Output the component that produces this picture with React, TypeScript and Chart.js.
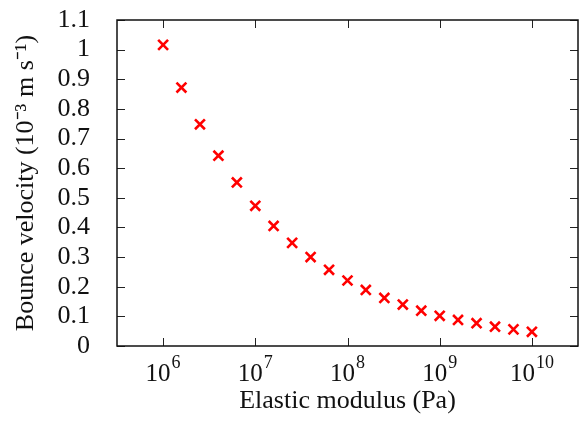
import React, { useEffect, useRef } from "react";
import { Chart, registerables } from "chart.js";

Chart.register(...registerables);

// Data
const modulusPa = [
  1e6, 1.58e6, 2.51e6, 3.98e6, 6.31e6,
  1e7, 1.58e7, 2.51e7, 3.98e7, 6.31e7,
  1e8, 1.58e8, 2.51e8, 3.98e8, 6.31e8,
  1e9, 1.58e9, 2.51e9, 3.98e9, 6.31e9,
  1e10,
];
const bounceVelocity = [
  1.016, 0.872, 0.748, 0.642, 0.552,
  0.473, 0.405, 0.348, 0.3, 0.257,
  0.221, 0.189, 0.162, 0.14, 0.119,
  0.102, 0.088, 0.077, 0.065, 0.056,
  0.048,
];
const xTickValues = [1e6, 1e7, 1e8, 1e9, 1e10];
const xTickBase = "10";
const xTickExponents = ["6", "7", "8", "9", "10"];
const xTickLabels = ["10⁶", "10⁷", "10⁸", "10⁹", "10¹⁰"];
const yTickValues = [0, 0.1, 0.2, 0.3, 0.4, 0.5, 0.6, 0.7, 0.8, 0.9, 1, 1.1];
const yTickLabels = ["0", "0.1", "0.2", "0.3", "0.4", "0.5", "0.6", "0.7", "0.8", "0.9", "1", "1.1"];
const xTitle = "Elastic modulus (Pa)";
const yTitle = "Bounce velocity (10⁻³ m s⁻¹)";

const FONT = "'Liberation Serif', 'Times New Roman', serif";
const TEXT = "#111";

const frameTicks = {
  id: "frameTicks",
  afterDraw(chart: any) {
    const { ctx, chartArea: a, scales } = chart;
    const len = 8;
    ctx.save();
    ctx.strokeStyle = "#222";
    ctx.lineWidth = 1;
    ctx.beginPath();
    for (const t of scales.x.ticks) {
      const px = Math.round(scales.x.getPixelForValue(t.value)) + 0.5;
      ctx.moveTo(px, a.bottom);
      ctx.lineTo(px, a.bottom - len);
      ctx.moveTo(px, a.top);
      ctx.lineTo(px, a.top + len);
    }
    for (const t of scales.y.ticks) {
      const py = Math.round(scales.y.getPixelForValue(t.value)) + 0.5;
      ctx.moveTo(a.left, py);
      ctx.lineTo(a.left + len, py);
      ctx.moveTo(a.right, py);
      ctx.lineTo(a.right - len, py);
    }
    ctx.stroke();
    ctx.lineWidth = 1.5;
    ctx.strokeStyle = "#111";
    ctx.strokeRect(a.left, a.top, a.right - a.left, a.bottom - a.top);

    // power-of-ten tick labels with proper superscripts
    ctx.fillStyle = TEXT;
    ctx.textBaseline = "alphabetic";
    ctx.textAlign = "left";
    const baseFont = `25px ${FONT}`;
    const expFont = `18px ${FONT}`;
    xTickValues.forEach((v, i) => {
      const px = scales.x.getPixelForValue(v);
      ctx.font = baseFont;
      const w1 = ctx.measureText(xTickBase).width;
      ctx.font = expFont;
      const w2 = ctx.measureText(xTickExponents[i]).width;
      const x0 = px - (w1 + w2 + 1) / 2;
      ctx.font = baseFont;
      ctx.fillText(xTickBase, x0, a.bottom + 35);
      ctx.font = expFont;
      ctx.fillText(xTickExponents[i], x0 + w1 + 1, a.bottom + 22);
    });
    ctx.restore();
  },
};

export default function App() {
  const ref = useRef<HTMLCanvasElement | null>(null);
  useEffect(() => {
    document.body.style.margin = "0";
    const canvas = ref.current;
    if (!canvas) return;
    const chart = new Chart(canvas, {
      type: "scatter",
      data: {
        datasets: [
          {
            data: modulusPa.map((x, i) => ({ x, y: bounceVelocity[i] })),
            pointStyle: "crossRot",
            pointRadius: 7,
            pointBorderWidth: 2.6,
            borderColor: "#ff0000",
            backgroundColor: "#ff0000",
            showLine: false,
          },
        ],
      },
      options: {
        animation: false,
        responsive: false,
        devicePixelRatio: 1,
        layout: { autoPadding: false, padding: { left: 0, right: 6, top: 20, bottom: 0 } },
        plugins: { legend: { display: false }, tooltip: { enabled: false } },
        scales: {
          x: {
            type: "logarithmic",
            min: Math.pow(10, 5.5),
            max: Math.pow(10, 10.5),
            afterBuildTicks: (s: any) => {
              s.ticks = xTickValues.map((v) => ({ value: v }));
            },
            afterFit: (s: any) => {
              s.height = 77;
              s.paddingLeft = 0;
              s.paddingRight = 0;
            },
            grid: { display: false },
            border: { display: false },
            ticks: {
              autoSkip: false,
              maxRotation: 0,
              padding: 14,
              color: "rgba(0,0,0,0)",
              font: { family: FONT, size: 20 },
              callback: (v: any) => {
                const i = xTickValues.indexOf(Number(v));
                return i >= 0 ? xTickLabels[i] : "";
              },
            },
            title: {
              display: true,
              text: xTitle,
              color: TEXT,
              font: { family: FONT, size: 26 },
              padding: { top: 0, bottom: 6 },
            },
          },
          y: {
            min: 0,
            max: 1.1,
            afterBuildTicks: (s: any) => {
              s.ticks = yTickValues.map((v) => ({ value: v }));
            },
            afterFit: (s: any) => {
              s.width = 117;
              s.paddingTop = 0;
              s.paddingBottom = 0;
            },
            grid: { display: false },
            border: { display: false },
            ticks: {
              autoSkip: false,
              padding: 19,
              color: TEXT,
              font: { family: FONT, size: 26 },
              callback: (v: any) => {
                const i = yTickValues.findIndex((t) => Math.abs(t - Number(v)) < 1e-9);
                return i >= 0 ? yTickLabels[i] : "";
              },
            },
            title: {
              display: true,
              text: yTitle,
              color: TEXT,
              font: { family: FONT, size: 26 },
              padding: { top: 11, bottom: 0 },
            },
          },
        },
      },
      plugins: [frameTicks],
    });
    return () => chart.destroy();
  }, []);
  return (
    <div style={{ width: 584, height: 423 }}>
      <canvas ref={ref} width={584} height={423} style={{ display: "block" }} />
    </div>
  );
}
